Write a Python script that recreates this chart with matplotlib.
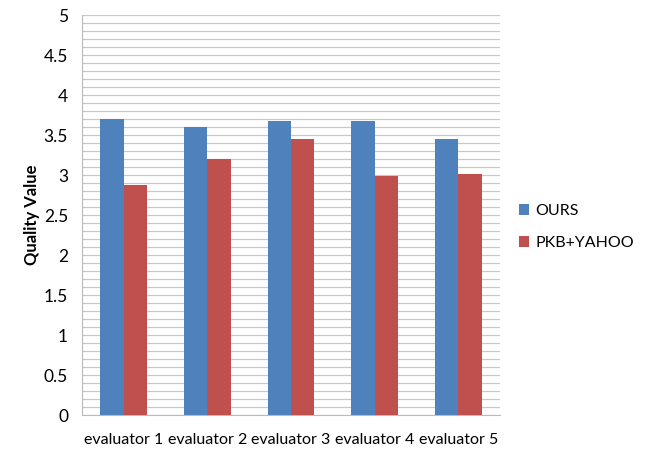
import numpy as np
import matplotlib.pyplot as plt
from matplotlib.ticker import MultipleLocator

plt.rcParams['font.family'] = ['Lato', 'DejaVu Sans']

evaluators = ["evaluator 1", "evaluator 2", "evaluator 3", "evaluator 4", "evaluator 5"]
ours = [3.70, 3.60, 3.67, 3.68, 3.45]
pkb_yahoo = [2.87, 3.20, 3.45, 2.99, 3.01]
yticks = [0, 0.5, 1, 1.5, 2, 2.5, 3, 3.5, 4, 4.5, 5]

fig = plt.figure(figsize=(6.45, 4.53), dpi=100)
ax = fig.add_axes([82/645, 38/453, 418/645, 400/453])

x = np.arange(len(evaluators))
w = 0.28
ax.bar(x - w/2, ours, w, color="#4F81BD", label="OURS", zorder=3)
ax.bar(x + w/2, pkb_yahoo, w, color="#C0504D", label="PKB+YAHOO", zorder=3)

ax.set_xlim(-0.5, len(evaluators) - 0.5)
ax.set_ylim(0, 5)
ax.set_yticks(yticks)
ax.set_yticklabels([f"{v:g}" for v in yticks])
ax.yaxis.set_minor_locator(MultipleLocator(0.1))
ax.grid(axis="y", which="both", color="#C8C8C8", linewidth=0.9, zorder=0)
ax.tick_params(axis="y", which="both", length=0, labelsize=12.5, pad=10)
ax.tick_params(axis="x", length=0, labelsize=11.5, pad=13)
ax.set_xticks(x)
ax.set_xticklabels(evaluators)

for side in ["top", "right"]:
    ax.spines[side].set_visible(False)
for side in ["left", "bottom"]:
    ax.spines[side].set_color("#BBBBBB")

ax.set_ylabel("Quality Value", fontsize=12, fontweight="bold", labelpad=3)

ax.legend(loc="center left", bbox_to_anchor=(1.03, 0.47), borderaxespad=0,
          frameon=False, fontsize=11.5, handlelength=0.65, handleheight=0.65,
          handletextpad=0.4, labelspacing=1.15)

fig.savefig("out.png", dpi=100)
